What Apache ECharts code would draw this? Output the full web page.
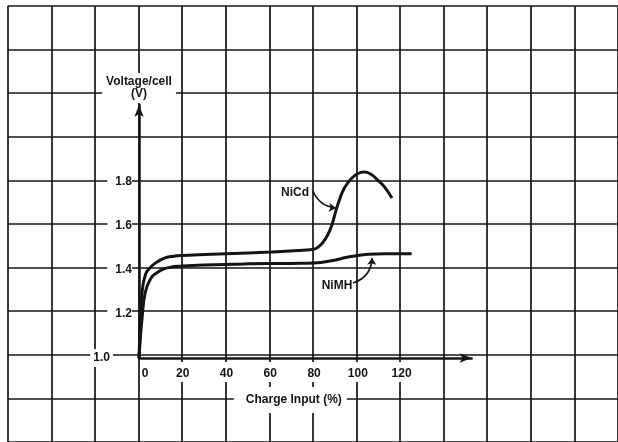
<!DOCTYPE html>
<html>
<head>
<meta charset="utf-8">
<script src="https://cdn.jsdelivr.net/npm/echarts@6/dist/echarts.min.js"></script>
<style>
  html, body { margin: 0; padding: 0; background: #fff; }
  #chart { width: 618px; height: 442px; }
</style>
</head>
<body>
<div id="chart"></div>
<script>
// Charge input (%) against cell voltage (V) for the two chemistries
const nicdCharge = [0, 0.4, 0.9, 1.8, 3, 4.1, 7.3, 11.9, 16, 20, 40, 60, 75, 80, 82, 84, 86, 88, 90, 92, 94, 97, 100, 103, 106, 109, 112, 115.6];
const nicdVolt   = [1.0, 1.12, 1.24, 1.33, 1.38, 1.40, 1.43, 1.455, 1.463, 1.466, 1.474, 1.482, 1.49, 1.495, 1.505, 1.525, 1.555, 1.60, 1.67, 1.73, 1.775, 1.815, 1.838, 1.845, 1.835, 1.81, 1.78, 1.727];

const nimhCharge = [0, 0.7, 1.5, 2.7, 5, 8.5, 14, 20, 30, 50, 70, 80, 88, 95, 100, 105, 112, 124.6];
const nimhVolt   = [1.0, 1.10, 1.19, 1.29, 1.355, 1.39, 1.412, 1.418, 1.423, 1.428, 1.43, 1.432, 1.442, 1.458, 1.466, 1.472, 1.474, 1.474];

const xTickLabels = [0, 20, 40, 60, 80, 100, 120];
const yTickLabels = [1.0, 1.2, 1.4, 1.6, 1.8];

const seriesNames = ['NiCd', 'NiMH'];
const xTitle = 'Charge Input (%)';
const yTitle = 'Voltage/cell\n(V)';

// Callout text positions and arrow ends, in charge % / volts
const nicdTag = [71.3, 1.75];
const nicdArrow = [[79.5, 1.759], [90.0, 1.682]];
const nimhTag = [90.5, 1.327];
const nimhArrow = [[97.8, 1.341], [106.5, 1.455]];

const ink = '#141414';
const font = '"Liberation Sans", Arial, sans-serif';
const txt = { fontFamily: font, fontSize: 12, fontWeight: 'bold', color: ink };

const pair = (xs, ys) => xs.map((x, i) => [x, ys[i]]);
const hasTick = (list, v) => list.some(t => Math.abs(t - v) < 1e-6);

const chart = echarts.init(document.getElementById('chart'), null, { renderer: 'canvas' });

const paperAxis = (min, max, interval) => ({
  gridIndex: 0, type: 'value', min, max, interval, z: 0,
  axisLine: { show: false }, axisTick: { show: false }, axisLabel: { show: false },
  splitLine: { show: true, lineStyle: { color: ink, width: 1.7 } }
});

// Curve series with its name tag
function curve(name, xs, ys, tag) {
  return {
    type: 'line', name: name, xAxisIndex: 1, yAxisIndex: 1,
    data: pair(xs, ys),
    smooth: 0.5,
    symbol: 'none', showSymbol: false,
    lineStyle: { color: ink, width: 3 }, z: 2,
    markPoint: {
      silent: true,
      symbol: 'rect', symbolSize: 0.01,
      itemStyle: { color: 'transparent' },
      label: Object.assign({ show: true, position: 'inside', formatter: '{b}' }, txt),
      data: [{ name: name, coord: tag }]
    }
  };
}

// Bent pointer from a tag to its curve
function pointer(arrow, bend) {
  return {
    type: 'lines', coordinateSystem: 'cartesian2d', xAxisIndex: 1, yAxisIndex: 1,
    silent: true, z: 3,
    symbol: ['none', 'arrow'], symbolSize: 7,
    lineStyle: { color: ink, width: 1.6, opacity: 1, curveness: bend },
    data: [{ coords: arrow }]
  };
}

const option = {
  backgroundColor: '#fff',
  animation: false,
  grid: [
    { left: 7.7, right: -2.4, top: 6, bottom: -4 },
    { left: 139, right: 146.4, top: 105, bottom: 84 }
  ],
  xAxis: [
    paperAxis(-60, 220, 20),
    {
      gridIndex: 1, type: 'value', min: 0, max: 152, interval: 20, z: 1,
      axisLine: { show: true, onZero: false, symbol: ['none', 'arrow'], symbolSize: [7, 12],
                  lineStyle: { color: ink, width: 2.5 } },
      axisTick: { show: false },
      splitLine: { show: false },
      axisLabel: {
        margin: 7,
        formatter: v => !hasTick(xTickLabels, v) ? '' : (v === 0 ? '{s| }{z|0}' : '{n|' + v + '}'),
        rich: {
          n: Object.assign({ backgroundColor: '#fff', padding: [6, 4, 2, 4], lineHeight: 14 }, txt),
          z: Object.assign({ backgroundColor: '#fff', padding: [6, 4, 2, 1], lineHeight: 14 }, txt),
          s: { width: 15 }
        }
      },
      name: '{t|' + xTitle + '}{s| }',
      nameLocation: 'middle',
      nameGap: 30,
      nameTextStyle: {
        rich: {
          t: Object.assign({ backgroundColor: '#fff', padding: [7, 5, 7, 12], lineHeight: 14 }, txt),
          s: { width: 30 }
        }
      }
    }
  ],
  yAxis: [
    paperAxis(0.6, 2.6, 0.2),
    {
      gridIndex: 1, type: 'value', min: 1.0, max: 2.15, interval: 0.2, z: 1,
      axisLine: { show: true, onZero: false, symbol: ['none', 'arrow'], symbolSize: [7, 12],
                  lineStyle: { color: ink, width: 2.5 } },
      axisTick: { show: false },
      splitLine: { show: false },
      axisLabel: {
        margin: 7,
        formatter: v => !hasTick(yTickLabels, v) ? '' :
          (Math.abs(v - 1) < 1e-6 ? '{l|' + v.toFixed(1) + '}{s| }' : '{n|' + v.toFixed(1) + '}'),
        rich: {
          n: Object.assign({ backgroundColor: '#fff', padding: [3, 0, 3, 8] }, txt),
          l: Object.assign({ backgroundColor: '#fff', padding: [3, 3, 3, 3] }, txt),
          s: { width: 19 }
        }
      },
      name: yTitle,
      nameLocation: 'end',
      nameGap: 2,
      nameTextStyle: Object.assign({
        align: 'center', verticalAlign: 'bottom',
        backgroundColor: '#fff', padding: [3, 4, 3, 4], lineHeight: 12
      }, txt)
    }
  ],
  series: [
    curve(seriesNames[0], nicdCharge, nicdVolt, nicdTag),
    curve(seriesNames[1], nimhCharge, nimhVolt, nimhTag),
    pointer(nicdArrow, -0.3),
    pointer(nimhArrow, -0.35)
  ]
};

chart.setOption(option);
</script>
</body>
</html>
